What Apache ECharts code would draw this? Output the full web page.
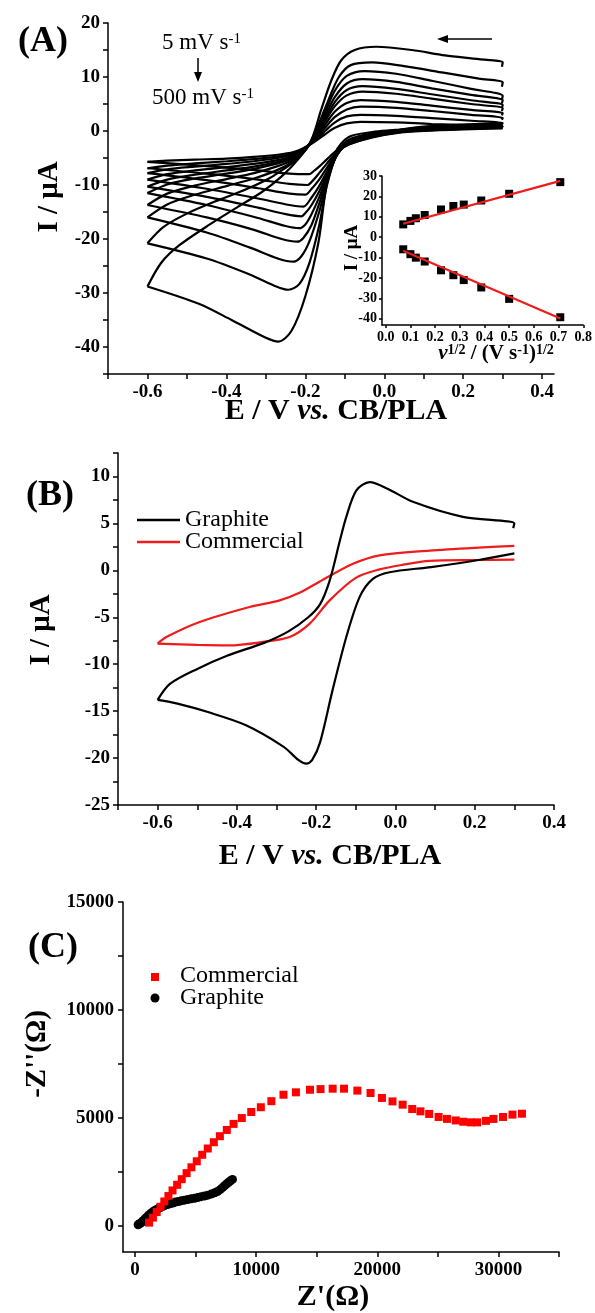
<!DOCTYPE html>
<html>
<head>
<meta charset="utf-8">
<script src="https://cdn.jsdelivr.net/npm/echarts@6/dist/echarts.min.js"></script>
<style>
  html, body { margin: 0; padding: 0; background: #fff; }
  #chart { width: 595px; height: 1313px; }
</style>
</head>
<body>
<div id="chart"></div>
<script>
  // ---- (A) CVs at 5 ... 500 mV/s, points are [E / V, I / uA] ----
  // fwd = scan from 0.3 V towards -0.6 V, rev = back to 0.3 V
  var scanRates = [5, 10, 15, 25, 50, 75, 100, 150, 250, 500]

  var fwd005 = [[0.3, 0.5], [0.2, 0.3], [0.1, 0], [0.03, -0.4], [-0.03, -1.2], [-0.09, -2.5], [-0.12, -3.6], [-0.145, -5.2], [-0.165, -6.6], [-0.18, -7.5], [-0.19, -8], [-0.24, -7.9], [-0.32, -7.3], [-0.45, -6.5], [-0.6, -5.7]]
  var rev005 = [[-0.6, -5.7], [-0.55, -5.5], [-0.48, -5.3], [-0.4, -5.1], [-0.33, -4.8], [-0.27, -4.4], [-0.23, -3.9], [-0.2, -3], [-0.175, -1.9], [-0.15, -0.6], [-0.125, 0.6], [-0.095, 1.4], [-0.06, 1.7], [0.03, 1.6], [0.12, 1.3], [0.22, 1.1], [0.3, 0.9], [0.298, 0.7]]

  var fwd010 = [[0.3, 0.6], [0.2, 0.4], [0.1, 0.1], [0.03, -0.3], [-0.03, -1.1], [-0.09, -2.5], [-0.12, -3.9], [-0.145, -6], [-0.165, -7.8], [-0.18, -9.1], [-0.195, -10], [-0.24, -9.8], [-0.32, -9], [-0.45, -7.9], [-0.6, -6.9]]
  var rev010 = [[-0.6, -6.9], [-0.55, -6.4], [-0.48, -6], [-0.4, -5.6], [-0.33, -5.2], [-0.27, -4.7], [-0.23, -4.1], [-0.2, -3], [-0.175, -1.7], [-0.15, 0], [-0.125, 1.6], [-0.095, 2.7], [-0.06, 3], [0.03, 2.8], [0.12, 2.4], [0.22, 1.9], [0.3, 1.5], [0.298, 1.3]]

  var fwd015 = [[0.3, 0.7], [0.2, 0.5], [0.1, 0.2], [0.03, -0.3], [-0.03, -1], [-0.09, -2.4], [-0.12, -4.1], [-0.145, -6.8], [-0.165, -9], [-0.185, -10.8], [-0.2, -11.8], [-0.24, -11.6], [-0.32, -10.6], [-0.45, -9.1], [-0.6, -7.8]]
  var rev015 = [[-0.6, -7.8], [-0.55, -7.1], [-0.48, -6.6], [-0.4, -6.1], [-0.33, -5.6], [-0.27, -5], [-0.23, -4.3], [-0.2, -3.1], [-0.175, -1.5], [-0.15, 0.6], [-0.125, 2.6], [-0.095, 4], [-0.06, 4.5], [0.03, 4.3], [0.12, 3.7], [0.22, 3], [0.3, 2.4], [0.298, 2.1]]

  var fwd025 = [[0.3, 0.8], [0.2, 0.6], [0.1, 0.3], [0.03, -0.2], [-0.03, -0.9], [-0.09, -2.3], [-0.12, -4.3], [-0.145, -7.5], [-0.165, -10.2], [-0.185, -12.4], [-0.205, -14], [-0.24, -13.7], [-0.32, -12.5], [-0.45, -10.7], [-0.6, -9]]
  var rev025 = [[-0.6, -9], [-0.55, -8], [-0.48, -7.3], [-0.4, -6.7], [-0.33, -6.1], [-0.27, -5.4], [-0.23, -4.6], [-0.2, -3.2], [-0.175, -1.3], [-0.15, 1.2], [-0.125, 3.6], [-0.095, 5.2], [-0.06, 5.7], [0.03, 5.4], [0.12, 4.7], [0.22, 3.9], [0.3, 3.3], [0.298, 2.9]]

  var fwd050 = [[0.3, 0.9], [0.2, 0.7], [0.1, 0.4], [0.03, -0.2], [-0.03, -0.8], [-0.09, -2.2], [-0.12, -4.4], [-0.145, -8], [-0.165, -11.2], [-0.185, -13.8], [-0.2, -15.2], [-0.21, -15.8], [-0.25, -15.4], [-0.32, -14.2], [-0.45, -12.2], [-0.6, -10.3]]
  var rev050 = [[-0.6, -10.3], [-0.55, -9], [-0.48, -8.1], [-0.4, -7.3], [-0.33, -6.6], [-0.27, -5.7], [-0.23, -4.8], [-0.2, -3.3], [-0.175, -1.1], [-0.15, 1.8], [-0.125, 4.6], [-0.095, 6.6], [-0.055, 7.3], [0.03, 6.9], [0.12, 6], [0.22, 5], [0.3, 4.2], [0.298, 3.7]]

  var fwd075 = [[0.3, 1], [0.2, 0.8], [0.1, 0.5], [0.03, -0.1], [-0.03, -0.7], [-0.09, -2.1], [-0.12, -4.5], [-0.145, -8.5], [-0.165, -12.3], [-0.185, -15.5], [-0.2, -17.3], [-0.215, -18], [-0.25, -17.6], [-0.32, -16.1], [-0.45, -13.7], [-0.6, -11.5]]
  var rev075 = [[-0.6, -11.5], [-0.55, -9.9], [-0.48, -8.8], [-0.4, -7.9], [-0.33, -7], [-0.27, -6], [-0.23, -5], [-0.2, -3.4], [-0.175, -1], [-0.15, 2.2], [-0.125, 5.4], [-0.095, 7.6], [-0.055, 8.3], [0.03, 7.8], [0.12, 6.8], [0.22, 5.7], [0.3, 4.8], [0.298, 4.3]]

  var fwd100 = [[0.3, 1.1], [0.2, 0.9], [0.1, 0.5], [0.03, -0.1], [-0.03, -0.6], [-0.09, -2], [-0.12, -4.5], [-0.145, -9], [-0.165, -13.5], [-0.185, -17.5], [-0.205, -19.8], [-0.22, -20.5], [-0.26, -20], [-0.33, -18.3], [-0.45, -16], [-0.6, -13.7]]
  var rev100 = [[-0.6, -13.7], [-0.55, -11.6], [-0.48, -10.1], [-0.4, -8.9], [-0.33, -7.8], [-0.27, -6.5], [-0.23, -5.3], [-0.2, -3.5], [-0.175, -0.8], [-0.15, 2.8], [-0.125, 6.3], [-0.095, 8.8], [-0.055, 9.6], [0.03, 9.1], [0.12, 7.9], [0.22, 6.7], [0.3, 5.7], [0.298, 5.1]]

  var fwd150 = [[0.3, 1.2], [0.2, 1], [0.1, 0.6], [0.03, 0], [-0.03, -0.5], [-0.09, -1.8], [-0.12, -4.3], [-0.145, -9.5], [-0.165, -15], [-0.19, -20.5], [-0.21, -23.2], [-0.23, -24.2], [-0.27, -23.6], [-0.34, -21.6], [-0.45, -18.8], [-0.6, -16]]
  var rev150 = [[-0.6, -16], [-0.55, -13.6], [-0.48, -11.8], [-0.4, -10.2], [-0.33, -8.8], [-0.27, -7.2], [-0.23, -5.6], [-0.2, -3.6], [-0.175, -0.5], [-0.15, 3.5], [-0.125, 7.5], [-0.095, 10.2], [-0.05, 11.1], [0.03, 10.6], [0.12, 9.3], [0.22, 7.8], [0.3, 6.5], [0.298, 5.8]]

  var fwd250 = [[0.3, 1.3], [0.2, 1.1], [0.1, 0.7], [0.03, 0.1], [-0.03, -0.4], [-0.09, -1.6], [-0.12, -4.2], [-0.145, -10], [-0.165, -17.5], [-0.19, -24.5], [-0.215, -28.3], [-0.243, -29.4], [-0.28, -28.6], [-0.35, -26.3], [-0.45, -23.6], [-0.6, -20.8]]
  var rev250 = [[-0.6, -20.8], [-0.56, -17.8], [-0.5, -15.3], [-0.42, -12.8], [-0.35, -10.8], [-0.29, -8.7], [-0.25, -6.8], [-0.22, -5.2], [-0.19, -2.5], [-0.165, 1.5], [-0.14, 6], [-0.115, 10], [-0.085, 12.2], [-0.03, 12.7], [0.05, 12], [0.15, 10.8], [0.24, 9.7], [0.3, 9], [0.298, 8.2]]

  var fwd500 = [[0.3, 1.4], [0.2, 1.2], [0.1, 0.8], [0.03, 0.2], [-0.03, -0.2], [-0.09, -1.1], [-0.124, -4], [-0.147, -10.3], [-0.167, -20.7], [-0.2, -30.6], [-0.235, -37], [-0.268, -39], [-0.3, -38.3], [-0.387, -35], [-0.47, -32], [-0.6, -28.8]]
  var rev500 = [[-0.6, -28.8], [-0.565, -24.4], [-0.52, -21.2], [-0.44, -17.2], [-0.37, -14], [-0.31, -11.3], [-0.26, -8.4], [-0.22, -5.4], [-0.185, -1.7], [-0.16, 3.9], [-0.134, 9.4], [-0.109, 13.1], [-0.075, 15], [-0.02, 15.6], [0.07, 15], [0.154, 14], [0.24, 13.3], [0.3, 12.7], [0.298, 11.9]]

  // inset: peak current vs square root of scan rate
  var sqrtRate = [0.071, 0.100, 0.122, 0.158, 0.224, 0.274, 0.316, 0.387, 0.500, 0.707]
  var ipUpper = [6.3, 8.0, 9.3, 10.9, 13.6, 15.3, 16.0, 18.0, 21.3, 27.0]
  var ipLower = [-5.9, -8.3, -10.0, -11.9, -16.2, -18.6, -21.0, -24.6, -30.2, -39.2]
  var fitUpper = [[0.071, 6.6], [0.707, 27.6]]
  var fitLower = [[0.071, -6.6], [0.707, -39.8]]

  // ---- (B) graphite vs commercial electrode ----
  var graphiteFwd = [[0.3, 1.8], [0.21, 1.1], [0.09, 0.35], [-0.015, -0.2], [-0.057, -0.9], [-0.09, -2.8], [-0.124, -7.1], [-0.16, -13], [-0.19, -18.3], [-0.21, -20.2], [-0.225, -20.6], [-0.245, -20.2], [-0.282, -18.8], [-0.377, -16.5], [-0.473, -15.1], [-0.55, -14.2], [-0.6, -13.8]]
  var graphiteRev = [[-0.6, -13.8], [-0.569, -12.1], [-0.5, -10.5], [-0.425, -9.1], [-0.33, -7.7], [-0.27, -6.5], [-0.22, -5], [-0.19, -3.6], [-0.166, -1.1], [-0.14, 3.2], [-0.124, 5.7], [-0.099, 8.5], [-0.065, 9.4], [-0.02, 8.7], [0.044, 7.3], [0.17, 5.7], [0.3, 5.0], [0.297, 4.5]]
  var commercialFwd = [[0.3, 1.15], [0.2, 1.1], [0.086, 1.0], [0.02, 0.6], [-0.04, 0.1], [-0.1, -0.8], [-0.166, -3.2], [-0.217, -5.7], [-0.267, -7.1], [-0.33, -7.6], [-0.42, -8.0], [-0.5, -7.95], [-0.6, -7.8]]
  var commercialRev = [[-0.6, -7.8], [-0.578, -7.1], [-0.494, -5.5], [-0.368, -3.9], [-0.292, -3.2], [-0.242, -2.4], [-0.183, -1.0], [-0.107, 0.7], [-0.04, 1.6], [0.086, 2.1], [0.2, 2.4], [0.3, 2.6]]

  // ---- (C) Nyquist plots, [Z' / ohm, -Z'' / ohm] ----
  var eisCommercial = [[1150, 160], [1470, 390], [1780, 650], [2100, 890], [2410, 1140], [2750, 1390], [3090, 1650], [3470, 1910], [3850, 2170], [4250, 2450], [4650, 2720], [5090, 3000], [5540, 3300], [6000, 3590], [6500, 3880], [7000, 4160], [7570, 4450], [8130, 4730], [8810, 5000], [9590, 5280], [10380, 5500], [11250, 5780], [12250, 6080], [13280, 6190], [14440, 6310], [15310, 6340], [16310, 6360], [17250, 6360], [18350, 6270], [19440, 6160], [20380, 5930], [21250, 5770], [22090, 5620], [22880, 5420], [23560, 5310], [24280, 5190], [25060, 5050], [25750, 4960], [26470, 4890], [27090, 4830], [27720, 4800], [28250, 4800], [28970, 4870], [29590, 4960], [30380, 5050], [31160, 5160], [31940, 5200]]
  var eisGraphite = [[250, 60], [330, 100], [440, 130], [560, 190], [690, 260], [810, 330], [940, 400], [1060, 470], [1190, 540], [1330, 610], [1470, 660], [1630, 720], [1780, 770], [1940, 820], [2100, 860], [2280, 910], [2470, 960], [2670, 1000], [2880, 1030], [3110, 1070], [3340, 1110], [3580, 1140], [3810, 1170], [4080, 1200], [4350, 1230], [4630, 1260], [4910, 1290], [5170, 1320], [5440, 1360], [5720, 1390], [6000, 1430], [6280, 1480], [6570, 1540], [6800, 1600], [7030, 1690], [7220, 1780], [7410, 1880], [7570, 1960], [7720, 2030], [7880, 2100], [8040, 2160]]

  // tick positions and labels
  var aXTicks = [-0.7, -0.6, -0.5, -0.4, -0.3, -0.2, -0.1, 0, 0.1, 0.2, 0.3, 0.4]
  var aXLabels = [-0.6, -0.4, -0.2, 0, 0.2, 0.4]
  var aYTicks = [-45, -40, -35, -30, -25, -20, -15, -10, -5, 0, 5, 10, 15, 20]
  var aYLabels = [-40, -30, -20, -10, 0, 10, 20]
  var insetXTicks = [0, 0.1, 0.2, 0.3, 0.4, 0.5, 0.6, 0.7, 0.8]
  var insetYTicks = [-40, -30, -20, -10, 0, 10, 20, 30]
  var bYTicks = [-25, -22.5, -20, -17.5, -15, -12.5, -10, -7.5, -5, -2.5, 0, 2.5, 5, 7.5, 10, 12.5]
  var bYLabels = [-25, -20, -15, -10, -5, 0, 5, 10]
  var cXTicks = [0, 5000, 10000, 15000, 20000, 25000, 30000, 35000]
  var cXLabels = [0, 10000, 20000, 30000]
  var cYTicks = [0, 2500, 5000, 7500, 10000, 12500, 15000]
  var cYLabels = [0, 5000, 10000, 15000]

  var SERIF = '"Liberation Serif", "Times New Roman", serif'
  var RED = '#ee1c1c'

  function fix1(v) { return v.toFixed(1) }

  function axis(grid, o) {
    return {
      type: 'value',
      gridIndex: grid,
      min: o.min,
      max: o.max,
      splitLine: { show: false },
      axisLine: { show: true, onZero: false, lineStyle: { color: '#000', width: 1.5 } },
      axisTick: { show: true, inside: false, length: o.len || 5, customValues: o.ticks, lineStyle: { color: '#000', width: 1.5 } },
      axisLabel: {
        show: true,
        customValues: o.labels,
        formatter: o.fmt,
        margin: o.margin,
        color: '#000',
        fontFamily: SERIF,
        fontWeight: 'bold',
        fontSize: o.size
      }
    }
  }

  function line(grid, data, color) {
    return {
      type: 'line',
      xAxisIndex: grid,
      yAxisIndex: grid,
      data: data,
      smooth: 0.3,
      symbol: 'none',
      silent: true,
      lineStyle: { color: color, width: 2.2 }
    }
  }

  function dots(grid, data, symbol, size, color) {
    return {
      type: 'scatter',
      xAxisIndex: grid,
      yAxisIndex: grid,
      data: data,
      symbol: symbol,
      symbolSize: size,
      silent: true,
      itemStyle: { color: color, opacity: 1 }
    }
  }

  function text(x, y, str, size, weight, extra) {
    extra = extra || {}
    return {
      type: 'text',
      x: x,
      y: y,
      rotation: extra.rotation || 0,
      silent: true,
      style: Object.assign({
        text: str,
        fontFamily: SERIF,
        fontSize: size,
        fontWeight: weight,
        fill: '#000',
        align: extra.align || 'center',
        textAlign: extra.align || 'center',
        verticalAlign: 'middle',
        textVerticalAlign: 'middle'
      }, extra.style || {})
    }
  }

  function richStyle(size, supSize, weight) {
    return {
      b: { fontFamily: SERIF, fontSize: size, fontWeight: weight, fill: '#000' },
      i: { fontFamily: SERIF, fontSize: size, fontWeight: weight, fontStyle: 'italic', fill: '#000' },
      sup: { fontFamily: SERIF, fontSize: supSize, fontWeight: weight, fill: '#000', verticalAlign: 'top' }
    }
  }

  var cvCurves = [
    fwd005, rev005, fwd010, rev010, fwd015, rev015, fwd025, rev025, fwd050, rev050,
    fwd075, rev075, fwd100, rev100, fwd150, rev150, fwd250, rev250, fwd500, rev500
  ]

  var series = []
  cvCurves.forEach(function (d) { series.push(line(0, d, '#000')) })

  series.push(line(1, fitUpper, RED))
  series.push(line(1, fitLower, RED))
  series.push(dots(1, sqrtRate.map(function (x, i) { return [x, ipUpper[i]] }), 'rect', 8, '#000'))
  series.push(dots(1, sqrtRate.map(function (x, i) { return [x, ipLower[i]] }), 'rect', 8, '#000'))

  series.push(line(2, commercialFwd, RED))
  series.push(line(2, commercialRev, RED))
  series.push(line(2, graphiteFwd, '#000'))
  series.push(line(2, graphiteRev, '#000'))

  series.push(dots(3, eisGraphite, 'circle', 9, '#000'))
  series.push(dots(3, eisCommercial, 'rect', 8, '#ff0000'))

  var graphic = [
    // panel (A)
    text(43, 42, '(A)', 36, 'bold'),
    text(162, 43, '{b|5 mV s}{sup|-1}', 23, 'normal', { align: 'left', style: { rich: richStyle(23, 15, 'normal') } }),
    text(152, 98, '{b|500 mV s}{sup|-1}', 23, 'normal', { align: 'left', style: { rich: richStyle(23, 15, 'normal') } }),
    { type: 'line', silent: true, shape: { x1: 198, y1: 58, x2: 198, y2: 74 }, style: { stroke: '#000', lineWidth: 1.5 } },
    { type: 'polygon', silent: true, shape: { points: [[194, 72], [202, 72], [198, 82]] }, style: { fill: '#000' } },
    { type: 'line', silent: true, shape: { x1: 492, y1: 39, x2: 446, y2: 39 }, style: { stroke: '#000', lineWidth: 1.5 } },
    { type: 'polygon', silent: true, shape: { points: [[448, 35], [448, 43], [437, 39]] }, style: { fill: '#000' } },
    text(50, 197, 'I / μA', 29, 'bold', { rotation: Math.PI / 2 }),
    text(336, 411, '{b|E / V }{i|vs.}{b| CB/PLA}', 30, 'bold', { style: { rich: richStyle(30, 18, 'bold') } }),
    text(352, 248, 'I / μA', 19, 'bold', { rotation: Math.PI / 2 }),
    text(496, 354, '{i|ν}{sup|1/2}{b| / (V s}{sup|-1}{b|)}{sup|1/2}', 21, 'bold', { style: { rich: richStyle(21, 14, 'bold') } }),

    // panel (B)
    text(50, 496, '(B)', 36, 'bold'),
    { type: 'line', silent: true, shape: { x1: 137, y1: 520, x2: 180, y2: 520 }, style: { stroke: '#000', lineWidth: 2.5 } },
    { type: 'line', silent: true, shape: { x1: 137, y1: 542, x2: 180, y2: 542 }, style: { stroke: RED, lineWidth: 2.5 } },
    text(185, 520, 'Graphite', 24, 'normal', { align: 'left' }),
    text(185, 542, 'Commercial', 24, 'normal', { align: 'left' }),
    text(42, 630, 'I / μA', 29, 'bold', { rotation: Math.PI / 2 }),
    text(330, 856, '{b|E / V }{i|vs.}{b| CB/PLA}', 30, 'bold', { style: { rich: richStyle(30, 18, 'bold') } }),

    // panel (C)
    text(53, 948, '(C)', 36, 'bold'),
    { type: 'rect', silent: true, shape: { x: 151, y: 973, width: 8, height: 8 }, style: { fill: '#ff0000' } },
    { type: 'circle', silent: true, shape: { cx: 155, cy: 998, r: 4.5 }, style: { fill: '#000' } },
    text(180, 976, 'Commercial', 24, 'normal', { align: 'left' }),
    text(180, 998, 'Graphite', 24, 'normal', { align: 'left' }),
    text(38, 1054, "-Z''(Ω)", 29, 'bold', { rotation: Math.PI / 2 }),
    text(333, 1297, "Z'(Ω)", 30, 'bold')
  ]

  var chart = echarts.init(document.getElementById('chart'))
  chart.setOption({
    animation: false,
    backgroundColor: '#fff',
    grid: [
      { left: 108, right: 41, top: 23, bottom: 939 },
      { left: 382, right: 10, top: 176, bottom: 988 },
      { left: 118, right: 41, top: 453, bottom: 508 },
      { left: 123, right: 36, top: 902, bottom: 61 }
    ],
    xAxis: [
      axis(0, { min: -0.7, max: 0.43, ticks: aXTicks, labels: aXLabels, fmt: fix1, size: 19, margin: 9 }),
      axis(1, { min: -0.015, max: 0.8, ticks: insetXTicks, labels: insetXTicks, fmt: fix1, size: 14, margin: 5, len: 3 }),
      axis(2, { min: -0.7, max: 0.4, ticks: aXTicks, labels: aXLabels, fmt: fix1, size: 19, margin: 9 }),
      axis(3, { min: -1000, max: 35000, ticks: cXTicks, labels: cXLabels, fmt: String, size: 19, margin: 9 })
    ],
    yAxis: [
      axis(0, { min: -45, max: 20, ticks: aYTicks, labels: aYLabels, fmt: String, size: 19, margin: 8 }),
      axis(1, { min: -43, max: 30, ticks: insetYTicks, labels: insetYTicks, fmt: String, size: 14, margin: 5, len: 3 }),
      axis(2, { min: -25, max: 12.5, ticks: bYTicks, labels: bYLabels, fmt: String, size: 19, margin: 8 }),
      axis(3, { min: -1200, max: 15000, ticks: cYTicks, labels: cYLabels, fmt: String, size: 19, margin: 9 })
    ],
    series: series,
    graphic: graphic
  })
</script>
</body>
</html>
